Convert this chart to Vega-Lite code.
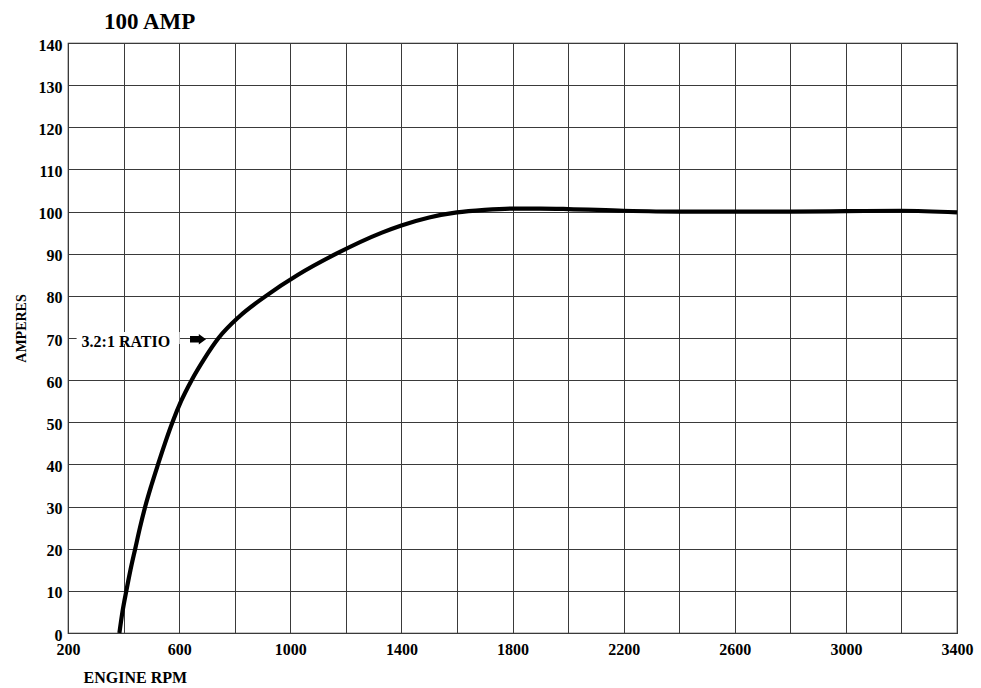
{
  "$schema": "https://vega.github.io/schema/vega-lite/v6.json",
  "autosize": {"type": "none"},
  "padding": {"left": 68, "top": 43, "right": 24, "bottom": 55},
  "width": 889,
  "height": 590,
  "background": "white",
  "title": {
    "text": "100 AMP",
    "anchor": "start",
    "frame": "group",
    "dx": 36,
    "offset": -20,
    "baseline": "bottom",
    "font": "Liberation Serif",
    "fontSize": 23,
    "fontWeight": "bold",
    "color": "black"
  },
  "config": {
    "view": {"stroke": "#222", "strokeWidth": 1.2},
    "axis": {
      "labelFont": "Liberation Serif",
      "labelFontSize": 16,
      "labelFontWeight": "bold",
      "labelColor": "black",
      "titleFont": "Liberation Serif",
      "titleFontWeight": "bold",
      "titleColor": "black",
      "gridColor": "#3a3a3a",
      "gridOpacity": 1,
      "gridWidth": 1,
      "ticks": false,
      "domain": false
    }
  },
  "datasets": {
    "curve": [
      {"rpm": 385, "amps": 0},
      {"rpm": 396, "amps": 5},
      {"rpm": 410, "amps": 10},
      {"rpm": 425, "amps": 15},
      {"rpm": 442, "amps": 20},
      {"rpm": 459, "amps": 25},
      {"rpm": 478, "amps": 30},
      {"rpm": 500, "amps": 35},
      {"rpm": 524, "amps": 40},
      {"rpm": 549, "amps": 45},
      {"rpm": 576, "amps": 50},
      {"rpm": 607, "amps": 55},
      {"rpm": 645, "amps": 60},
      {"rpm": 690, "amps": 65},
      {"rpm": 742, "amps": 70},
      {"rpm": 815, "amps": 75},
      {"rpm": 913, "amps": 80},
      {"rpm": 1028, "amps": 85},
      {"rpm": 1166, "amps": 90},
      {"rpm": 1330, "amps": 95},
      {"rpm": 1400, "amps": 96.7},
      {"rpm": 1500, "amps": 98.6},
      {"rpm": 1600, "amps": 99.8},
      {"rpm": 1700, "amps": 100.4},
      {"rpm": 1800, "amps": 100.7},
      {"rpm": 1900, "amps": 100.7},
      {"rpm": 2000, "amps": 100.6},
      {"rpm": 2200, "amps": 100.2},
      {"rpm": 2400, "amps": 100.0},
      {"rpm": 2600, "amps": 100.0},
      {"rpm": 2800, "amps": 100.0},
      {"rpm": 3000, "amps": 100.1},
      {"rpm": 3200, "amps": 100.2},
      {"rpm": 3400, "amps": 99.8}
    ],
    "mask": [{"x1": 231, "x2": 602, "y1": 68.6, "y2": 71.4}],
    "label": [{"rpm": 249, "amps": 70, "text": "3.2:1 RATIO"}],
    "arrow": [{"rpm": 668, "amps": 69.7}]
  },
  "layer": [
    {
      "data": {"name": "curve"},
      "mark": {"type": "line", "interpolate": "monotone", "color": "black", "strokeWidth": 4.2, "strokeCap": "butt"},
      "encoding": {
        "x": {
          "field": "rpm",
          "type": "quantitative",
          "scale": {"domain": [200, 3400], "nice": false, "zero": false},
          "axis": {
            "values": [200, 400, 600, 800, 1000, 1200, 1400, 1600, 1800, 2000, 2200, 2400, 2600, 2800, 3000, 3200, 3400],
            "labelExpr": "(datum.value - 200) % 400 == 0 ? datum.value : ''",
            "labelPadding": 8,
            "labelFlush": false,
            "labelOverlap": false,
            "title": "ENGINE RPM",
            "titleFontSize": 16,
            "titleAlign": "left",
            "titleAnchor": null,
            "titleX": 15,
            "titleY": 44,
            "titleBaseline": "middle"
          }
        },
        "y": {
          "field": "amps",
          "type": "quantitative",
          "scale": {"domain": [0, 140], "nice": false},
          "axis": {
            "values": [0, 10, 20, 30, 40, 50, 60, 70, 80, 90, 100, 110, 120, 130, 140],
            "labelPadding": 6,
            "labelOffset": 2,
            "labelFlush": false,
            "labelOverlap": false,
            "title": "AMPERES",
            "titleFontSize": 14,
            "titleAngle": -90,
            "titleAlign": "center",
            "titleBaseline": "middle",
            "titleX": -47,
            "titleY": 285
          }
        }
      }
    },
    {
      "data": {"name": "mask"},
      "mark": {"type": "rect", "color": "white"},
      "encoding": {
        "x": {"field": "x1", "type": "quantitative"},
        "x2": {"field": "x2"},
        "y": {"field": "y1", "type": "quantitative"},
        "y2": {"field": "y2"}
      }
    },
    {
      "data": {"name": "label"},
      "mark": {"type": "text", "align": "left", "baseline": "middle", "dy": 4, "font": "Liberation Serif", "fontSize": 16, "fontWeight": "bold", "color": "black"},
      "encoding": {
        "x": {"field": "rpm", "type": "quantitative"},
        "y": {"field": "amps", "type": "quantitative"},
        "text": {"field": "text"}
      }
    },
    {
      "data": {"name": "arrow"},
      "mark": {"type": "point", "filled": true, "color": "black", "opacity": 1, "size": 256, "shape": "M-1,-0.4L0.1,-0.4L0.1,-0.65L1,0L0.1,0.65L0.1,0.4L-1,0.4Z"},
      "encoding": {
        "x": {"field": "rpm", "type": "quantitative"},
        "y": {"field": "amps", "type": "quantitative"}
      }
    }
  ]
}
